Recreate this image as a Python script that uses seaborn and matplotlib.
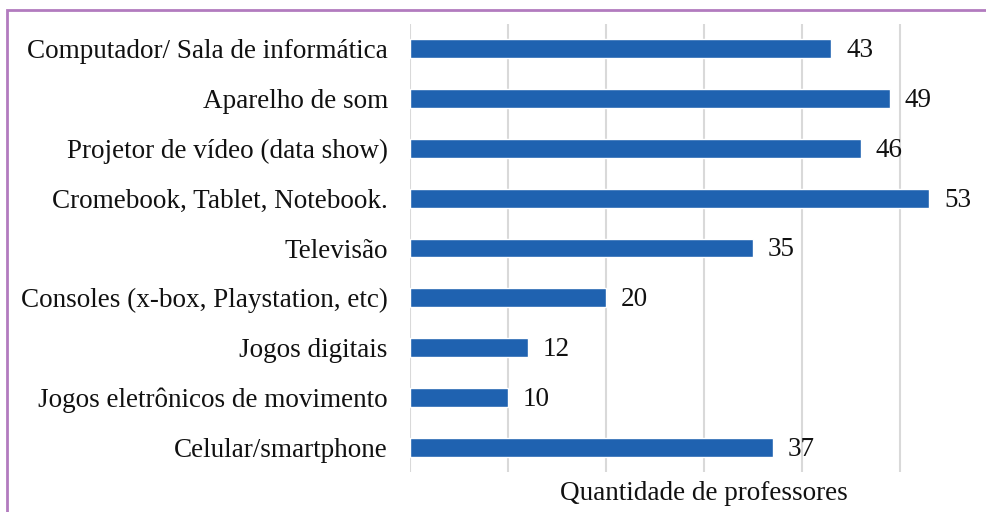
import matplotlib
matplotlib.use("Agg")
import pandas as pd
import matplotlib.pyplot as plt
import matplotlib.patches as mpatches
import seaborn as sns

# Dados do gráfico
categorias = [
    "Computador/ Sala de informática",
    "Aparelho de som",
    "Projetor de vídeo (data show)",
    "Cromebook, Tablet, Notebook.",
    "Televisão",
    "Consoles (x-box, Playstation, etc)",
    "Jogos digitais",
    "Jogos eletrônicos de movimento",
    "Celular/smartphone",
]
quantidades = [43, 49, 46, 53, 35, 20, 12, 10, 37]
grade_x = [0, 10, 20, 30, 40, 50]

df = pd.DataFrame({"categoria": categorias, "quantidade": quantidades})

sns.set_style("white")
plt.rcParams["font.family"] = ["Liberation Serif", "DejaVu Serif"]

fig = plt.figure(figsize=(9.86, 5.12), dpi=100)
ax = fig.add_axes([410 / 986, 40 / 512, 588 / 986, 448 / 512])

sns.barplot(data=df, x="quantidade", y="categoria", orient="h",
            color="#1f62b0", saturation=1, width=0.38, ax=ax, zorder=3)

ax.set_xlim(0, 60)
ax.set_ylim(len(categorias) - 0.5, -0.5)
ax.set_xticks(grade_x)
ax.set_xticklabels([])
ax.tick_params(axis="both", length=0)
ax.grid(axis="x", color="#d9d9d9", lw=1.5, zorder=0)
ax.set_yticks(range(len(categorias)))
ax.set_yticklabels(categorias, fontsize=19.5, color="#111111")
ax.tick_params(axis="y", pad=16)
for s in ax.spines.values():
    s.set_visible(False)

for i, v in enumerate(quantidades):
    ax.text(v + 1.5, i + 0.04, str(v), va="center", ha="left", fontsize=19.5, color="#111111")

ax.set_xlabel("Quantidade de professores", fontsize=19.5, color="#111111", labelpad=3)
ax.set_ylabel("")

# Moldura roxa
borda = mpatches.Rectangle((7 / 986, -0.2), 1.2, (512 - 10) / 512 + 0.2,
                           fill=False, edgecolor="#b27bbf", lw=2,
                           transform=fig.transFigure, clip_on=False)
fig.add_artist(borda)

fig.savefig("out.png", dpi=100)
